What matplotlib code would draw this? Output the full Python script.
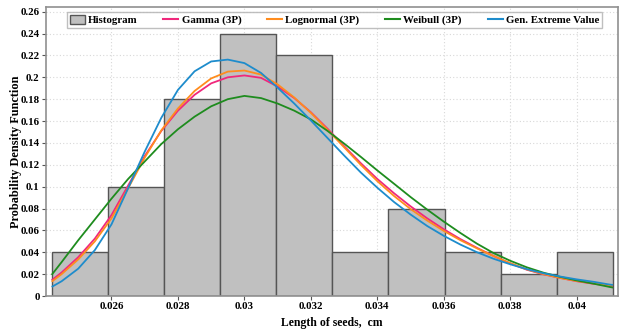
import matplotlib
matplotlib.use("Agg")
import matplotlib.pyplot as plt
from matplotlib.patches import Patch
from matplotlib.lines import Line2D

# ---- data ----
bin_edges = [0.02420, 0.02589, 0.02758, 0.02927, 0.03096, 0.03265,
             0.03433, 0.03602, 0.03771, 0.03940, 0.04109]
hist_heights = [0.04, 0.10, 0.18, 0.24, 0.22, 0.04, 0.08, 0.04, 0.02, 0.04]

curve_x = [0.0242, 0.0245, 0.0250, 0.0255, 0.0260, 0.0265, 0.0270, 0.0275,
           0.0280, 0.0285, 0.0290, 0.0295, 0.0300, 0.0305, 0.0310, 0.0315,
           0.0320, 0.0325, 0.0330, 0.0335, 0.0340, 0.0345, 0.0350, 0.0355,
           0.0360, 0.0365, 0.0370, 0.0375, 0.0380, 0.0385, 0.0390, 0.0395,
           0.0400, 0.0405, 0.0410, 0.04109]

gamma_3p = [0.0144, 0.0215, 0.0355, 0.0525, 0.0740, 0.1010, 0.1280, 0.1510,
            0.1695, 0.1840, 0.1945, 0.2000, 0.2017, 0.1995, 0.1915, 0.1810,
            0.1680, 0.1530, 0.1370, 0.1215, 0.1070, 0.0940, 0.0820, 0.0710,
            0.0610, 0.0520, 0.0440, 0.0365, 0.0298, 0.0240, 0.0198, 0.0165,
            0.0135, 0.0112, 0.0094, 0.0092]

lognormal_3p = [0.0131, 0.0200, 0.0335, 0.0500, 0.0710, 0.0985, 0.1265, 0.1515,
                0.1715, 0.1875, 0.1990, 0.2052, 0.2062, 0.2025, 0.1935, 0.1815,
                0.1675, 0.1520, 0.1360, 0.1200, 0.1050, 0.0915, 0.0795, 0.0690,
                0.0595, 0.0510, 0.0435, 0.0365, 0.0300, 0.0243, 0.0200, 0.0165,
                0.0137, 0.0115, 0.0097, 0.0095]

weibull_3p = [0.0193, 0.0310, 0.0510, 0.0700, 0.0890, 0.1070, 0.1230, 0.1390,
              0.1525, 0.1640, 0.1735, 0.1800, 0.1830, 0.1810, 0.1760, 0.1695,
              0.1615, 0.1510, 0.1394, 0.1273, 0.1148, 0.1027, 0.0905, 0.0790,
              0.0680, 0.0576, 0.0478, 0.0392, 0.0322, 0.0262, 0.0213, 0.0175,
              0.0142, 0.0113, 0.0082, 0.0077]

gev = [0.0083, 0.0135, 0.0250, 0.0420, 0.0655, 0.0985, 0.1320, 0.1630,
       0.1885, 0.2055, 0.2145, 0.2162, 0.2130, 0.2040, 0.1905, 0.1760,
       0.1605, 0.1445, 0.1285, 0.1130, 0.0990, 0.0860, 0.0745, 0.0640,
       0.0550, 0.0470, 0.0400, 0.0340, 0.0290, 0.0245, 0.0208, 0.0178,
       0.0152, 0.0130, 0.0104, 0.0101]

series_names = ["Gamma (3P)", "Lognormal (3P)", "Weibull (3P)", "Gen. Extreme Value"]
series_colors = ["#f0287c", "#ff8c1e", "#1e8c1e", "#1e8ccc"]

x_ticks = [0.026, 0.028, 0.030, 0.032, 0.034, 0.036, 0.038, 0.040]
x_tick_labels = ["0.026", "0.028", "0.03", "0.032", "0.034", "0.036", "0.038", "0.04"]
y_ticks = [0.0, 0.02, 0.04, 0.06, 0.08, 0.10, 0.12, 0.14, 0.16, 0.18, 0.20, 0.22, 0.24, 0.26]
y_tick_labels = ["0", "0.02", "0.04", "0.06", "0.08", "0.1", "0.12", "0.14", "0.16",
                 "0.18", "0.2", "0.22", "0.24", "0.26"]

# ---- figure ----
plt.rcParams['font.family'] = ['Liberation Serif', 'DejaVu Serif']
plt.rcParams['font.weight'] = 'bold'

fig = plt.figure(figsize=(6.27, 3.34), dpi=100)
ax = fig.add_axes([46/627, 1 - 296/334, (618 - 46)/627, (296 - 7)/334])

widths = [bin_edges[i + 1] - bin_edges[i] for i in range(len(hist_heights))]
ax.bar(bin_edges[:-1], hist_heights, width=widths, align='edge',
       color='#c0c0c0', edgecolor='#555555', linewidth=1.0, zorder=2)

for ys, c in zip([gamma_3p, lognormal_3p, weibull_3p, gev], series_colors):
    ax.plot(curve_x, ys, color=c, linewidth=1.3, zorder=3,
            solid_capstyle='butt', solid_joinstyle='round')

ax.set_xlim(0.02403, 0.04124)
ax.set_ylim(0, 0.2643)
ax.set_xticks(x_ticks)
ax.set_xticklabels(x_tick_labels)
ax.set_yticks(y_ticks)
ax.set_yticklabels(y_tick_labels)
ax.tick_params(labelsize=7.8, length=3, width=0.8, color='#555555', pad=1.5)
for lab in ax.get_xticklabels() + ax.get_yticklabels():
    lab.set_fontweight('bold')

ax.grid(True, color='#d8d8d8', linestyle=(0, (1, 2)), linewidth=0.8, zorder=0)
ax.set_axisbelow(True)
for s in ax.spines.values():
    s.set_color('#909090')
    s.set_linewidth(1.2)

ax.set_xlabel("Length of seeds,  cm", fontsize=8.5, fontweight='bold', labelpad=4)
ax.set_ylabel("Probability Density Function", fontsize=8.8, fontweight='bold', labelpad=-1)

handles = [Patch(facecolor='#c0c0c0', edgecolor='#555555', linewidth=1.0)]
handles += [Line2D([0], [0], color=c, linewidth=1.5) for c in series_colors]
labels = ["Histogram"] + series_names
bb_h = 15 / 289
leg = ax.legend(handles, labels, ncol=5, loc='upper left',
                bbox_to_anchor=((67 - 46)/572, 1 - (12 - 7)/289 - bb_h, (602 - 67)/572, bb_h),
                mode='expand', fontsize=7.8, frameon=True, fancybox=False,
                handlelength=1.4, handleheight=0.9, handletextpad=0.3,
                borderpad=0.25, borderaxespad=0, columnspacing=1.0)
leg.get_frame().set_edgecolor('#b0b0b0')
leg.get_frame().set_linewidth(1.0)
for t in leg.get_texts():
    t.set_fontweight('bold')

fig.savefig("out.png", dpi=100)
